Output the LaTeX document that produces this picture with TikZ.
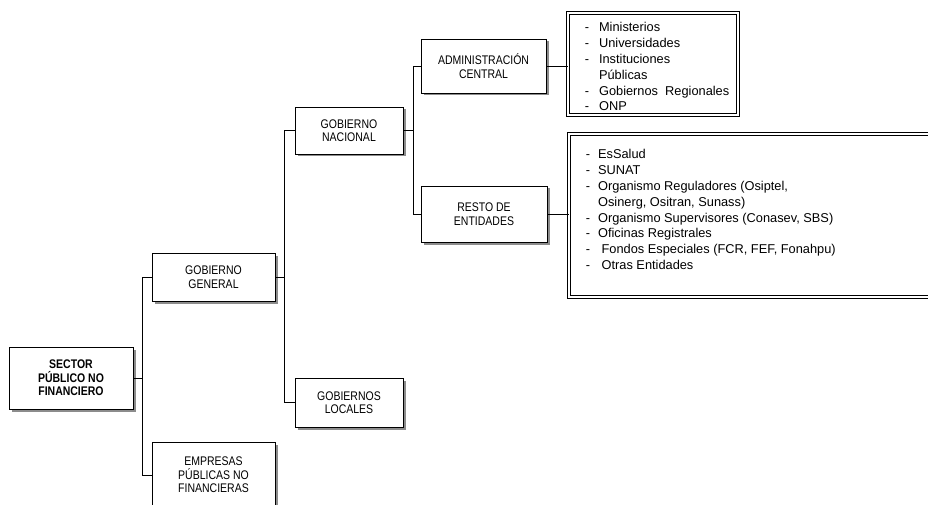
\documentclass[tikz,border=0pt]{standalone}
\usepackage{fontspec}
\setmainfont{Liberation Sans}
\newfontfamily\angosta[FakeStretch=0.84]{Liberation Sans}
\usetikzlibrary{positioning, shadows}

\begin{document}
\begin{tikzpicture}[x=1pt, y=1pt,
      caja/.style={draw, fill=white, line width=0.8pt, align=center, inner sep=2pt,
        font=\angosta\fontsize{12.5}{13.5}\selectfont,
        drop shadow={shadow xshift=2.5pt, shadow yshift=-2.5pt, fill=black!45, opacity=1}},
      lista/.style={draw, double, double distance=2.2pt, line width=0.8pt, inner sep=0pt},
      listatexto/.style={anchor=north west, inner sep=0pt, align=left,
        font=\fontsize{12.8}{15.8}\selectfont},
      rama/.style={line width=0.8pt}
    ]
    \useasboundingbox (0,0) rectangle (928,504);
    \clip (0,0) rectangle (928,504);

    % Nodes
    \node[caja, minimum width=124pt, minimum height=62pt] (sector) at (71,126)
      {\bfseries SECTOR\\\bfseries PÚBLICO NO\\\bfseries FINANCIERO};
    \node[caja, minimum width=123pt, minimum height=48pt] (general) at (213.5,227) {GOBIERNO\\GENERAL};
    \node[caja, minimum width=123pt, minimum height=66pt] (empresas) at (213.5,29) {EMPRESAS\\PÚBLICAS NO\\FINANCIERAS};
    \node[caja, minimum width=108pt, minimum height=47pt] (nacional) at (349,373.5) {GOBIERNO\\NACIONAL};
    \node[caja, minimum width=108pt, minimum height=49pt] (locales) at (349,101.5) {GOBIERNOS\\LOCALES};
    \node[caja, minimum width=125pt, minimum height=54pt] (central) at (483.5,438) {ADMINISTRACIÓN\\CENTRAL};
    \node[caja, minimum width=126pt, minimum height=56pt] (resto) at (484,290) {RESTO DE\\ENTIDADES};

    % Lists
    \node[lista, minimum width=170pt, minimum height=102pt] (lista1) at (653,440) {};
    \node[listatexto] (texto1) at ([shift={(17pt,-8pt)}]lista1.north west) {%
      \begin{tabular}{@{}l@{\hspace{10pt}}l@{}}
        - & Ministerios\\
        - & Universidades\\
        - & Instituciones\\
          & Públicas\\
        - & Gobiernos\ \ Regionales\\
        - & ONP
      \end{tabular}};
    \node[lista, minimum width=366pt, minimum height=163pt] (lista2) at (752,288.5) {};
    \node[listatexto] (texto2) at ([shift={(17pt,-14pt)}]lista2.north west) {%
      \begin{tabular}{@{}l@{\hspace{8pt}}l@{}}
        - & EsSalud\\
        - & SUNAT\\
        - & Organismo Reguladores (Osiptel,\\
          & Osinerg, Ositran, Sunass)\\
        - & Organismo Supervisores (Conasev, SBS)\\
        - & Oficinas Registrales\\
        - & \ Fondos Especiales (FCR, FEF, Fonahpu)\\
        - & \ Otras Entidades
      \end{tabular}};

    % Branches
    \coordinate (t1) at ([xshift=9pt]sector.east);
    \coordinate (t2) at ([xshift=9pt]general.east);
    \coordinate (t3) at ([xshift=10pt]nacional.east);
    \draw[rama] (sector.east) -- (t1);
    \draw[rama] (general.west) -| (t1) |- (empresas.west);
    \draw[rama] (general.east) -- (t2);
    \draw[rama] (nacional.west) -| (t2) |- (locales.west);
    \draw[rama] (nacional.east) -- (t3);
    \draw[rama] (central.west) -| (t3) |- (resto.west);
    \draw[rama] (central.east) -- (central.east -| lista1.west);
    \draw[rama] (resto.east) -- (resto.east -| lista2.west);

  \end{tikzpicture}
\end{document}
